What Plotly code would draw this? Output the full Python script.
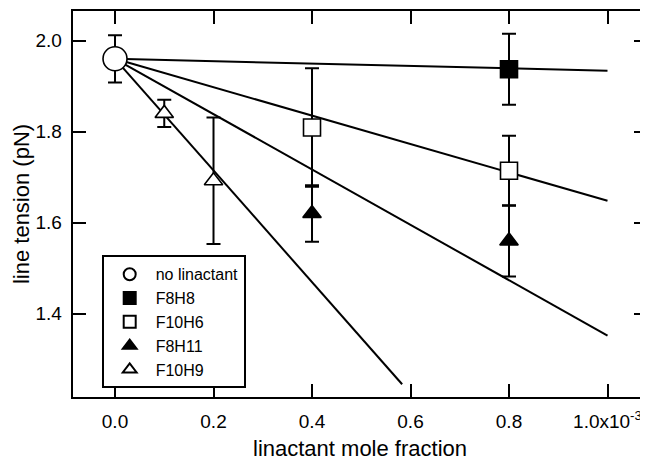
import plotly.graph_objects as go

# ---- data ----
series_names = ["no linactant", "F8H8", "F10H6", "F8H11", "F10H9"]

x_none = [0.0]
y_none = [1.960]
e_none = [0.052]

x_f8h8 = [0.8]
y_f8h8 = [1.937]
e_f8h8 = [0.078]

x_f10h6 = [0.4, 0.8]
y_f10h6 = [1.809, 1.714]
e_f10h6 = [0.130, 0.077]

x_f8h11 = [0.4, 0.8]
y_f8h11 = [1.620, 1.560]
e_f8h11 = [0.062, 0.078]

x_f10h9 = [0.1, 0.2]
y_f10h9 = [1.840, 1.692]
e_f10h9 = [0.030, 0.139]

# linear fits (start, end)
fit_f8h8_x = [0.0, 1.0]
fit_f8h8_y = [1.960, 1.934]
fit_f10h6_x = [0.0, 1.0]
fit_f10h6_y = [1.960, 1.648]
fit_f8h11_x = [0.0, 1.0]
fit_f8h11_y = [1.960, 1.352]
fit_f10h9_x = [0.0, 0.583]
fit_f10h9_y = [1.960, 1.245]

x_tickvals = [0.0, 0.2, 0.4, 0.6, 0.8, 1.0]
x_ticktext = ["0.0", "0.2", "0.4", "0.6", "0.8", "1.0x10<sup>-3</sup>"]
y_tickvals = [1.4, 1.6, 1.8, 2.0]
y_ticktext = ["1.4", "1.6", "1.8", "2.0"]

FONT = "Liberation Sans, Arial, Helvetica, sans-serif"
BLACK = "black"
NBSP = "\u00a0"

fig = go.Figure()

# fit lines (drawn first, behind markers)
for fx, fy in [(fit_f8h8_x, fit_f8h8_y), (fit_f10h6_x, fit_f10h6_y),
               (fit_f8h11_x, fit_f8h11_y), (fit_f10h9_x, fit_f10h9_y)]:
    fig.add_trace(go.Scatter(x=fx, y=fy, mode="lines",
                             line=dict(color=BLACK, width=2),
                             showlegend=False, hoverinfo="skip"))

def err(arr):
    return dict(type="data", array=arr, visible=True, color=BLACK,
                thickness=2, width=7)

specs = [
    (series_names[0], x_none, y_none, e_none, "circle", 24, "white"),
    (series_names[1], x_f8h8, y_f8h8, e_f8h8, "square", 17, BLACK),
    (series_names[2], x_f10h6, y_f10h6, e_f10h6, "square", 17, "white"),
    (series_names[3], x_f8h11, y_f8h11, e_f8h11, "triangle-up", 16, BLACK),
    (series_names[4], x_f10h9, y_f10h9, e_f10h9, "triangle-up", 16, "white"),
]

for name, xs, ys, es, sym, size, fill in specs:
    fig.add_trace(go.Scatter(
        x=xs, y=ys, mode="markers", name=name,
        error_y=err(es),
        marker=dict(symbol=sym, size=size, color=fill,
                    line=dict(color=BLACK, width=1.6)),
        showlegend=True, cliponaxis=False,
    ))

# the page body adds an 8px offset; figure sized so the plot area lands where the reference has it
fig.update_layout(
    width=640, height=459,
    margin=dict(l=65, r=1, t=3, b=70),
    paper_bgcolor="white", plot_bgcolor="white",
    font=dict(family=FONT, size=19, color=BLACK),
    showlegend=True,
    legend=dict(x=0.05, y=0.367, xanchor="left", yanchor="top",
                bordercolor=BLACK, borderwidth=2, bgcolor="white",
                font=dict(family=FONT, size=16, color=BLACK),
                itemsizing="constant", tracegroupgap=0,
                itemwidth=42),
    xaxis=dict(range=[-0.0853, 1.0802], tickvals=x_tickvals, ticktext=x_ticktext,
               ticks="inside", ticklen=13, tickwidth=2, tickcolor=BLACK,
               showline=True, linecolor=BLACK, linewidth=2, mirror="allticks",
               showgrid=False, zeroline=False, ticklabelstandoff=6,
               automargin=False,
               tickfont=dict(family=FONT, size=19, color=BLACK),
               title=dict(text="linactant mole fraction", standoff=10,
                          font=dict(family=FONT, size=22, color=BLACK))),
    yaxis=dict(range=[1.217, 2.065], tickvals=y_tickvals,
               ticktext=[t + NBSP for t in y_ticktext],
               ticks="inside", ticklen=13, tickwidth=2, tickcolor=BLACK,
               showline=True, linecolor=BLACK, linewidth=2, mirror="allticks",
               showgrid=False, zeroline=False,
               automargin=False,
               tickfont=dict(family=FONT, size=19, color=BLACK),
               title=dict(text="line tension (pN)", standoff=0,
                          font=dict(family=FONT, size=22, color=BLACK))),
)

fig.write_html("out.html")
